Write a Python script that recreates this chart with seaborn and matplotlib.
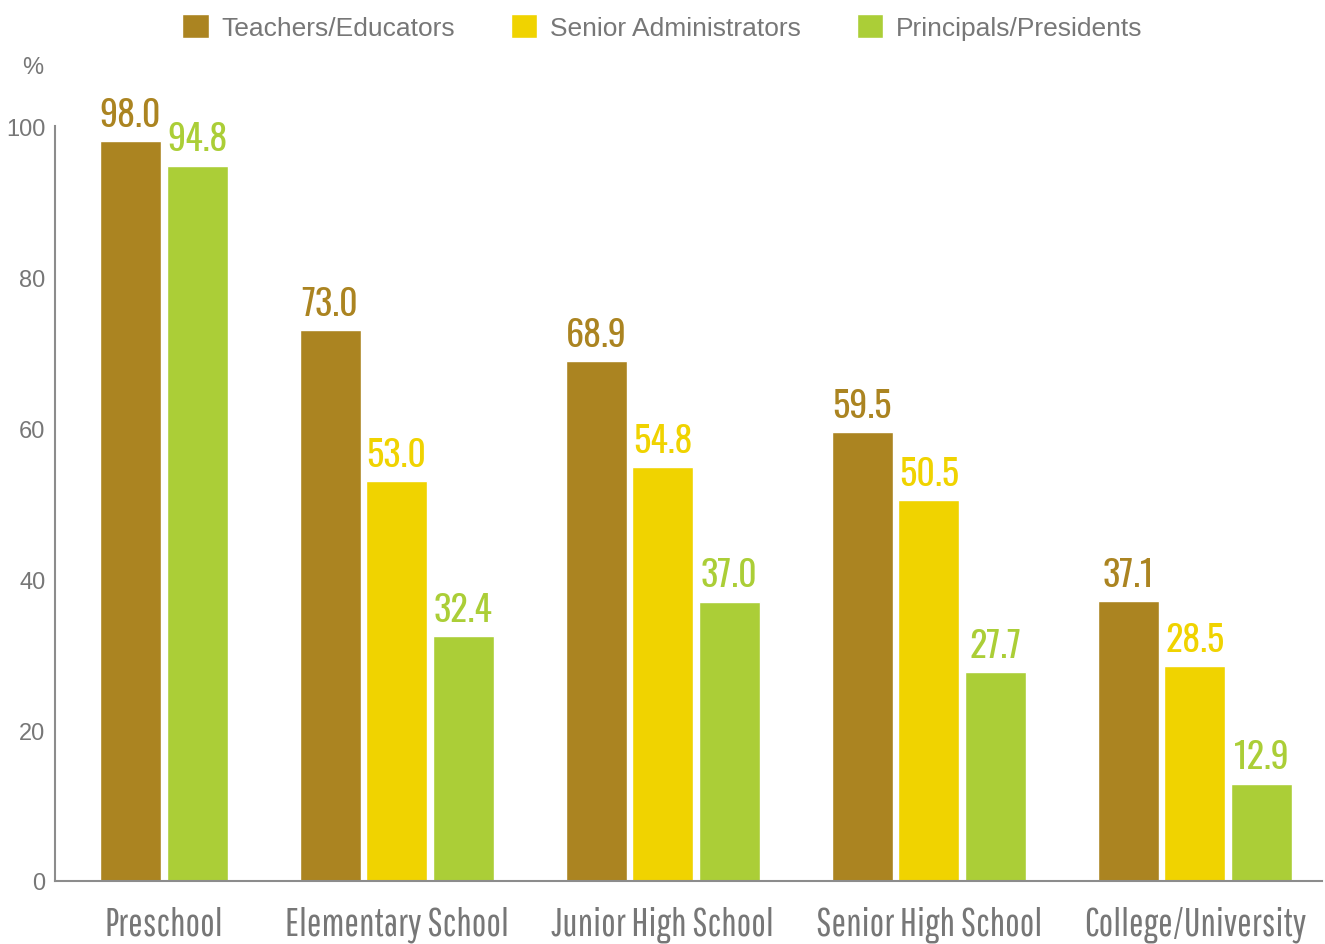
import numpy as np
import pandas as pd
import matplotlib
matplotlib.use('Agg')
import matplotlib.pyplot as plt
import seaborn as sns

levels = ['Preschool', 'Elementary School', 'Junior High School',
          'Senior High School', 'College/University']
roles = ['Teachers/Educators', 'Senior Administrators', 'Principals/Presidents']
teachers = [98.0, 73.0, 68.9, 59.5, 37.1]
senior_admin = [np.nan, 53.0, 54.8, 50.5, 28.5]
principals = [94.8, 32.4, 37.0, 27.7, 12.9]
colors = ['#AB8421', '#F0D300', '#ABCE37']

# long table, one slot per bar, with an empty slot between school levels
rows = []
order = []
for i, lvl in enumerate(levels):
    if i > 0:
        order.append(f'gap{i}')
    for role, vals in zip(roles, [teachers, senior_admin, principals]):
        if not np.isnan(vals[i]):
            slot = f'{lvl}|{role}'
            order.append(slot)
            rows.append({'level': lvl, 'role': role, 'slot': slot, 'value': vals[i]})
df = pd.DataFrame(rows)

sns.set_style('white')
plt.rcParams['font.family'] = ['Liberation Sans', 'DejaVu Sans']
gray = '#777777'
axis_gray = '#8c8c8c'
value_font = ['Oswald', 'Barlow Condensed', 'DejaVu Sans']
tick_font = ['Pathway Gothic One', 'Barlow Condensed', 'DejaVu Sans']

fig = plt.figure(figsize=(13.25, 9.45), dpi=100)
ax = fig.add_axes([55 / 1325, 1 - 882 / 945, (1322 - 55) / 1325, (882 - 85) / 945])

sns.barplot(data=df, x='slot', y='value', hue='role', order=order, hue_order=roles,
            palette=dict(zip(roles, colors)), dodge=False, width=0.917,
            saturation=1, ax=ax)

for cont, col in zip(ax.containers, colors):
    ax.bar_label(cont, fmt='%.1f', padding=6, color=col, fontsize=26,
                 fontweight='bold', family=value_font)

ax.set_ylim(0, 105.6)
ax.set_xlim(-1.135, 17.91)

centers = [np.mean([order.index(s) for s in df.loc[df['level'] == lvl, 'slot']])
           for lvl in levels]
ax.set_xticks(centers)
ax.set_xticklabels(levels, fontsize=28, color=gray, family=tick_font)
ax.tick_params(axis='x', length=0, pad=18)

ax.set_yticks([0, 20, 40, 60, 80, 100])
ax.tick_params(axis='y', direction='in', length=7, width=1, color=axis_gray,
               labelsize=17, labelcolor=gray, pad=7)
ax.set_xlabel('')
ax.set_ylabel('')

sns.despine(ax=ax)
ax.spines['left'].set_bounds(0, 100)
for s in ['left', 'bottom']:
    ax.spines[s].set_color(axis_gray)
    ax.spines[s].set_linewidth(1.5)

fig.text(33 / 1325, 1 - 68 / 945, '%', ha='center', va='center', fontsize=17, color=gray)

handles, labels = ax.get_legend_handles_labels()
ax.legend_.remove()
leg = fig.legend(handles, labels, loc='center', bbox_to_anchor=(0.5, 1 - 28 / 945),
                 ncol=3, frameon=False, fontsize=19, handlelength=1.0,
                 handleheight=1.0, handletextpad=0.5, columnspacing=2.1)
for t in leg.get_texts():
    t.set_color(gray)

fig.savefig('out.png', dpi=100)
